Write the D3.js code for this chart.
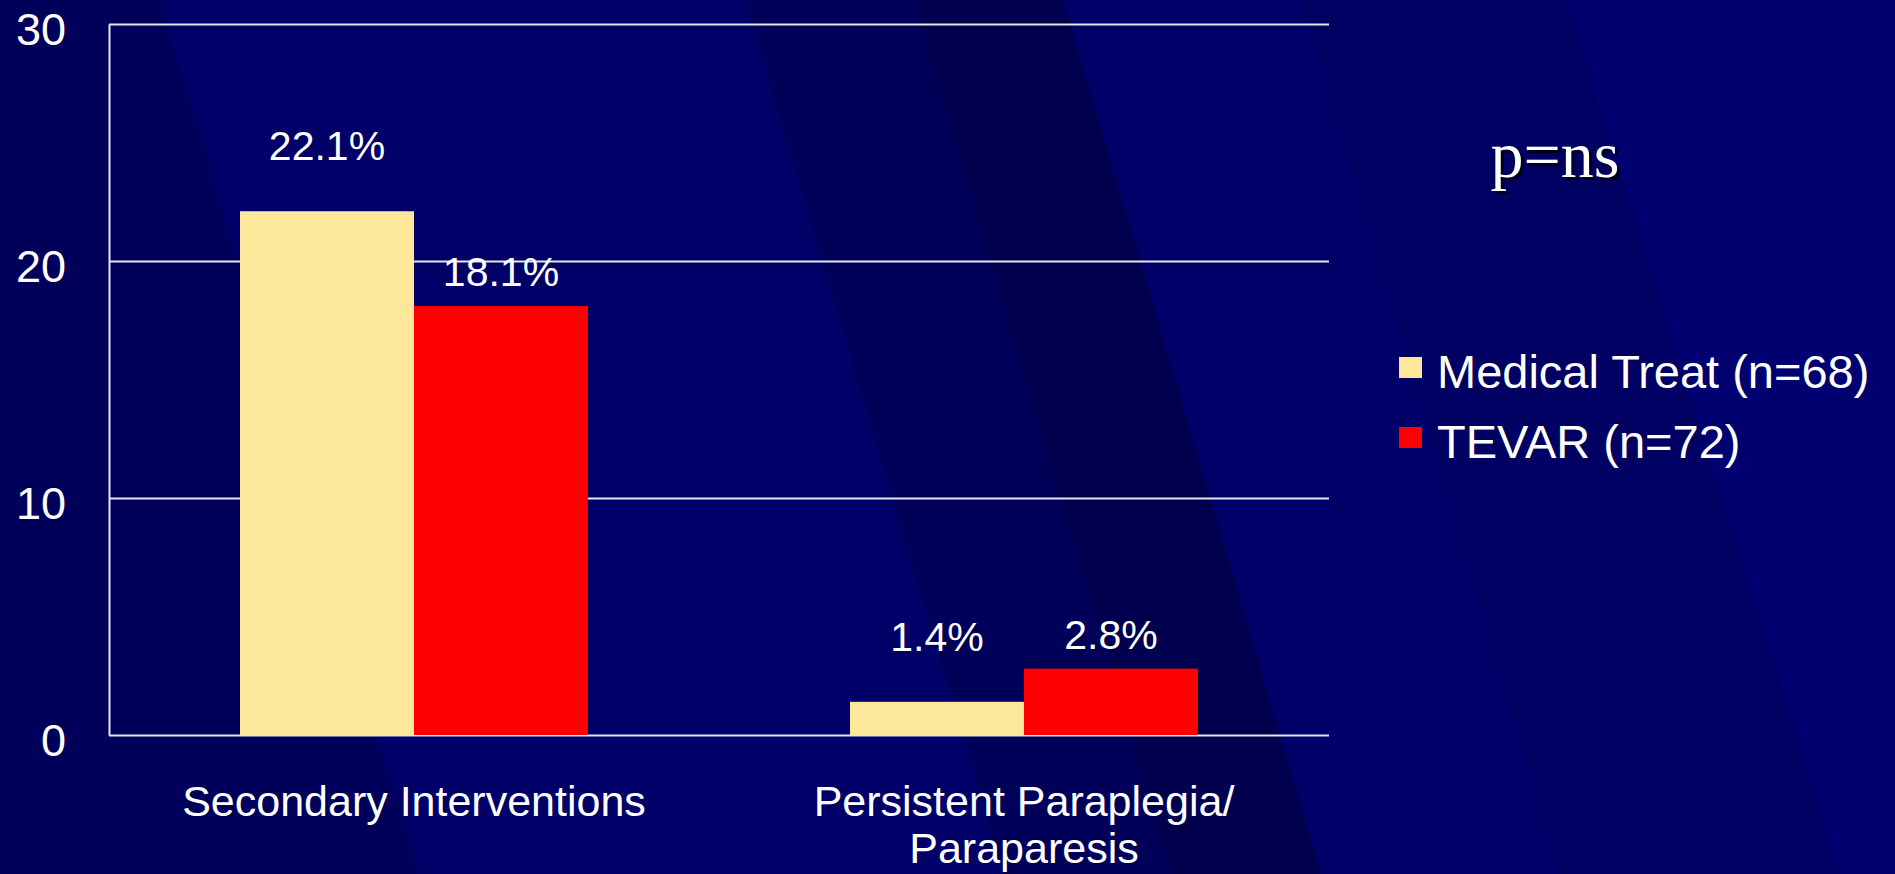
<!DOCTYPE html>
<html>
<head>
<meta charset="utf-8">
<script src="https://cdn.jsdelivr.net/npm/d3@7"></script>
<style>
  html, body { margin: 0; padding: 0; background: #000066; overflow: hidden; }
  svg { display: block; }
</style>
</head>
<body>
<svg id="chart" width="1895" height="874"></svg>
<script>
// data
const categories = ["Secondary Interventions", "Persistent Paraplegia/\nParaparesis"];
const seriesNames = ["Medical Treat (n=68)", "TEVAR (n=72)"];
const medicalValues = [22.1, 1.4];
const tevarValues = [18.1, 2.8];
const yTicks = [0, 10, 20, 30];
const pValueText = "p=ns";

const colors = ["#fde79a", "#ff0000"];
const labelGap = [51, 20];   // value label distance above bar, per series
const font = "'Liberation Sans', Arial, sans-serif";

const svg = d3.select("#chart");
const width = +svg.attr("width");
const height = +svg.attr("height");
const margin = { top: 24, right: 566, bottom: 139, left: 109 };

// background slide stripes
const bg = svg.append("g");
bg.append("rect").attr("width", width).attr("height", height).attr("fill", "#000068");
const stripes = [
  { pts: [[0, 0], [160, 0], [418, 874], [0, 874]], fill: "#00005a" },
  { pts: [[745, 0], [1063, 0], [1321, 874], [1003, 874]], fill: "#000058" },
  { pts: [[914, 0], [1063, 0], [1321, 874], [1172, 874]], fill: "#00004e" },
  { pts: [[1302, 0], [1566, 0], [1839, 874], [1560, 874]], fill: "#000062" },
  { pts: [[1566, 0], [1895, 0], [1895, 874], [1839, 874]], fill: "#000070" }
];
bg.selectAll("polygon")
  .data(stripes)
  .enter()
  .append("polygon")
  .attr("points", d => d.pts.map(p => p.join(",")).join(" "))
  .attr("fill", d => d.fill);

const innerWidth = width - margin.left - margin.right;
const innerHeight = height - margin.top - margin.bottom;

const rows = categories.map((c, i) => ({
  category: c,
  values: [medicalValues[i], tevarValues[i]]
}));

const x0 = d3.scaleBand()
  .domain(categories)
  .range([0, innerWidth]);

const x1 = d3.scaleBand()
  .domain(d3.range(seriesNames.length))
  .range([0, x0.bandwidth()])
  .paddingOuter(0.753);

const yScale = d3.scaleLinear()
  .domain([0, 30])
  .range([innerHeight, 0]);

const chart = svg.append("g")
  .attr("transform", `translate(${margin.left},${margin.top})`);

// Y axis with gridlines
const yAxis = d3.axisLeft(yScale)
  .tickValues(yTicks)
  .tickSize(-innerWidth)
  .tickSizeOuter(0)
  .tickPadding(43);

const yG = chart.append("g").call(yAxis);
yG.select(".domain").attr("stroke", "#e6e6ee").attr("stroke-width", 2);
yG.selectAll(".tick line").attr("stroke", "#e6e6ee").attr("stroke-width", 2);
yG.selectAll(".tick text")
  .attr("fill", "#ffffff")
  .attr("font-family", font)
  .attr("font-size", 45)
  .attr("dy", "0.45em");

// Bars
const groups = chart.selectAll(".group")
  .data(rows)
  .enter()
  .append("g")
  .attr("class", "group")
  .attr("transform", d => `translate(${x0(d.category)},0)`);

groups.selectAll("rect")
  .data(d => d.values)
  .enter()
  .append("rect")
  .attr("x", (d, i) => x1(i))
  .attr("y", d => yScale(d))
  .attr("width", x1.bandwidth())
  .attr("height", d => innerHeight - yScale(d))
  .attr("fill", (d, i) => colors[i]);

// Value labels
groups.selectAll(".val")
  .data(d => d.values)
  .enter()
  .append("text")
  .attr("class", "val")
  .attr("x", (d, i) => x1(i) + x1.bandwidth() / 2)
  .attr("y", (d, i) => yScale(d) - labelGap[i])
  .attr("text-anchor", "middle")
  .attr("fill", "#ffffff")
  .attr("font-family", font)
  .attr("font-size", 41)
  .text(d => d3.format(".1f")(d) + "%");

// Category labels
const catText = chart.selectAll(".cat")
  .data(categories)
  .enter()
  .append("text")
  .attr("class", "cat")
  .attr("x", d => x0(d) + x0.bandwidth() / 2)
  .attr("y", innerHeight + 81)
  .attr("text-anchor", "middle")
  .attr("fill", "#ffffff")
  .attr("font-family", font)
  .attr("font-size", 43);

catText.each(function(d) {
  const t = d3.select(this);
  d.split("\n").forEach((line, i) => {
    t.append("tspan")
      .attr("x", x0(d) + x0.bandwidth() / 2)
      .attr("dy", i === 0 ? 0 : 47)
      .text(line);
  });
});

// p value
svg.append("text")
  .attr("x", 1558)
  .attr("y", 180)
  .attr("text-anchor", "middle")
  .attr("fill", "#000018")
  .attr("font-family", "'Liberation Serif', 'Times New Roman', serif")
  .attr("font-size", 66)
  .text(pValueText);
svg.append("text")
  .attr("x", 1555)
  .attr("y", 177)
  .attr("text-anchor", "middle")
  .attr("fill", "#ffffff")
  .attr("font-family", "'Liberation Serif', 'Times New Roman', serif")
  .attr("font-size", 66)
  .text(pValueText);

// Legend
const legendGroup = svg.append("g")
  .attr("transform", "translate(1399, 357)");

legendGroup.selectAll("rect")
  .data(seriesNames)
  .enter()
  .append("rect")
  .attr("x", 0)
  .attr("y", (d, i) => i * 70)
  .attr("width", 23)
  .attr("height", 21)
  .attr("fill", (d, i) => colors[i]);

legendGroup.selectAll("text")
  .data(seriesNames)
  .enter()
  .append("text")
  .attr("x", 38)
  .attr("y", (d, i) => i * 70 + 31)
  .attr("fill", "#ffffff")
  .attr("font-family", font)
  .attr("font-size", 47)
  .text(d => d);
</script>
</body>
</html>
